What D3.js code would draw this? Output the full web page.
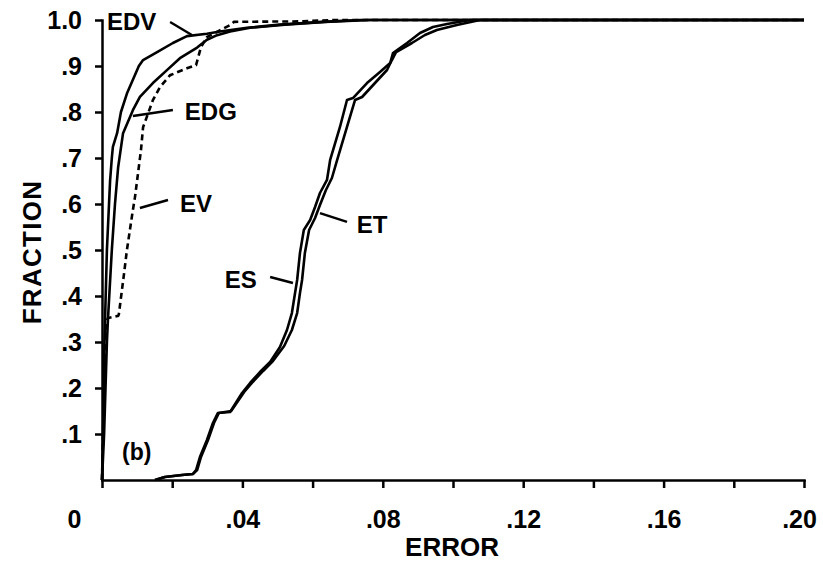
<!DOCTYPE html>
<html>
<head>
<meta charset="utf-8">
<script src="https://cdn.jsdelivr.net/npm/d3@7"></script>
<style>
  html, body { margin: 0; padding: 0; background: #fff; }
  svg { display: block; }
  text { font-family: "Liberation Sans", Arial, sans-serif; font-weight: bold; fill: #000; }
</style>
</head>
<body>
<svg id="chart" width="823" height="561"></svg>
<script>
// Cumulative error distributions: [error, fraction]
const edv = [[0,0],[.0003,.1],[.0007,.3],[.0014,.5],[.0023,.65],[.0028,.7],[.0031,.724],[.0043,.754],
  [.0054,.8],[.0071,.84],[.0088,.87],[.0105,.9],[.0117,.913],[.0157,.93],[.0202,.95],[.0242,.965],
  [.0299,.97],[.0336,.975],[.0413,.983],[.0507,.99],[.063,.996],[.0735,1],[.2,1]];
const edg = [[0,0],[.0006,.1],[.0014,.3],[.0017,.35],[.0028,.5],[.0037,.6],[.0046,.68],[.006,.754],
  [.0088,.804],[.0108,.833],[.0145,.863],[.0185,.891],[.0222,.917],[.0271,.94],[.0299,.957],
  [.0328,.967],[.0365,.975],[.0422,.983],[.0521,.99],[.0635,.996],[.0764,1],[.2,1]];
const ev = [[0,0],[.0003,.1],[.0011,.34],[.0017,.352],[.0046,.357],[.0048,.36],[.0063,.45],[.0071,.5],
  [.0088,.587],[.0094,.615],[.0111,.717],[.0117,.767],[.0128,.79],[.0145,.826],[.0165,.854],
  [.0194,.88],[.0242,.895],[.0268,.902],[.0282,.941],[.0299,.963],[.033,.975],[.0365,.989],
  [.0376,.996],[.0564,.997],[.0664,1],[.2,1]];
const es = [[.0151,0],[.0179,.0065],[.0228,.0109],[.0259,.013],[.0268,.0217],[.0279,.05],[.0299,.087],
  [.0316,.1239],[.033,.1457],[.0365,.1478],[.0399,.1891],[.0422,.2109],[.045,.2348],[.0479,.2565],
  [.0507,.2891],[.0527,.3261],[.0541,.363],[.055,.4065],[.0556,.4348],[.0564,.4935],[.0575,.5435],
  [.0593,.5652],[.0607,.5935],[.0621,.6239],[.0641,.6522],[.065,.6957],[.0678,.7674],[.0698,.8261],
  [.0715,.8304],[.0755,.863],[.0792,.887],[.0821,.9065],[.0829,.9283],[.0869,.95],[.0906,.9717],
  [.0943,.9848],[.0983,.9913],[.1048,1],[.2,1]];
const et = [[.0151,0],[.0179,.0065],[.0228,.0109],[.0259,.013],[.0271,.0217],[.0282,.05],[.0302,.087],
  [.0319,.1239],[.0333,.1457],[.0368,.15],[.0405,.1913],[.0427,.2109],[.0459,.237],[.0487,.2587],
  [.0519,.2913],[.0541,.3261],[.0556,.363],[.0564,.4065],[.057,.4348],[.0578,.4935],[.059,.5435],
  [.0607,.5696],[.0621,.5978],[.0638,.6304],[.0655,.6565],[.067,.6957],[.0698,.7674],[.0721,.8261],
  [.0741,.8326],[.0783,.8674],[.0812,.8913],[.0826,.913],[.0838,.9304],[.0883,.95],[.092,.9674],
  [.0954,.9783],[.1011,.9891],[.1077,1],[.2,1]];

const xTicks = [0, .04, .08, .12, .16, .20];
const xMinorTicks = [.02, .06, .10, .14, .18];
const xTickLabels = ["0", ".04", ".08", ".12", ".16", ".20"];
const yTicks = [.1, .2, .3, .4, .5, .6, .7, .8, .9, 1.0];
const yTickLabels = [".1", ".2", ".3", ".4", ".5", ".6", ".7", ".8", ".9", "1.0"];

// Curve labels with leader lines, in data units
const labels = [
  { text: "EDV", x: .0014, y: .978, from: [.0194, .9957], to: [.0256, .9674] },
  { text: "EDG", x: .0236, y: .7826, from: [.0088, .7913], to: [.0202, .8043] },
  { text: "EV",  x: .0222, y: .5826, from: [.0108, .5913], to: [.0188, .6087] },
  { text: "ES",  x: .035,  y: .4174, from: [.0479, .4413], to: [.0544, .4283] },
  { text: "ET",  x: .0726, y: .537,  from: [.0621, .5804], to: [.0698, .5609] }
];

const svg = d3.select("#chart");
const x = d3.scaleLinear().domain([0, 0.2]).range([102, 804]);
const y = d3.scaleLinear().domain([0, 1]).range([480, 20]);

const line = d3.line().x(d => x(d[0])).y(d => y(d[1]));

// Axes
const xAxis = svg.append("g").attr("transform", "translate(0,480)")
  .call(d3.axisBottom(x).tickValues(xTicks.concat(xMinorTicks)).tickSize(8).tickSizeOuter(0).tickPadding(22)
    .tickFormat(d => { const i = xTicks.findIndex(t => Math.abs(t - d) < 1e-9); return i >= 0 ? xTickLabels[i] : ""; }));
xAxis.selectAll("path, line").attr("stroke", "#000").attr("stroke-width", 2.5);
xAxis.selectAll("text").attr("font-size", 25).attr("dy", "0.7em");
xAxis.selectAll(".tick").filter(d => d === 0).select("text").attr("dx", -28);
xAxis.selectAll(".tick").filter(d => Math.abs(d - 0.2) < 1e-9).select("text").attr("dx", -5);

const yAxis = svg.append("g").attr("transform", "translate(102,0)")
  .call(d3.axisLeft(y).tickValues(yTicks).tickSize(7).tickSizeOuter(0).tickPadding(13)
    .tickFormat((d, i) => yTickLabels[i]));
yAxis.selectAll("path, line").attr("stroke", "#000").attr("stroke-width", 2.5);
yAxis.selectAll("text").attr("font-size", 25);
svg.selectAll(".domain").attr("stroke-linecap", "square");

// Curves
const solid = [edv, edg, es, et];
svg.append("g").selectAll("path").data(solid).join("path")
  .attr("d", line).attr("fill", "none").attr("stroke", "#000")
  .attr("stroke-width", 2.6).attr("stroke-linejoin", "round");
svg.append("path").datum(ev).attr("d", line).attr("fill", "none").attr("stroke", "#000")
  .attr("stroke-width", 2.6).attr("stroke-dasharray", "6,4");

// Labels and leaders
const lab = svg.append("g");
lab.selectAll("line").data(labels).join("line")
  .attr("x1", d => x(d.from[0])).attr("y1", d => y(d.from[1]))
  .attr("x2", d => x(d.to[0])).attr("y2", d => y(d.to[1]))
  .attr("stroke", "#000").attr("stroke-width", 2.4);
lab.selectAll("text").data(labels).join("text")
  .attr("x", d => x(d.x)).attr("y", d => y(d.y)).attr("font-size", 24).text(d => d.text);
svg.append("text").attr("x", x(.0057)).attr("y", y(.0435)).attr("font-size", 23).text("(b)");

// Axis titles
svg.append("text").attr("x", 452).attr("y", 556).attr("text-anchor", "middle")
  .attr("font-size", 26).text("ERROR");
svg.append("text").attr("transform", "translate(41,252) rotate(-90)").attr("text-anchor", "middle")
  .attr("font-size", 26).attr("letter-spacing", 1.3).text("FRACTION");
</script>
</body>
</html>
